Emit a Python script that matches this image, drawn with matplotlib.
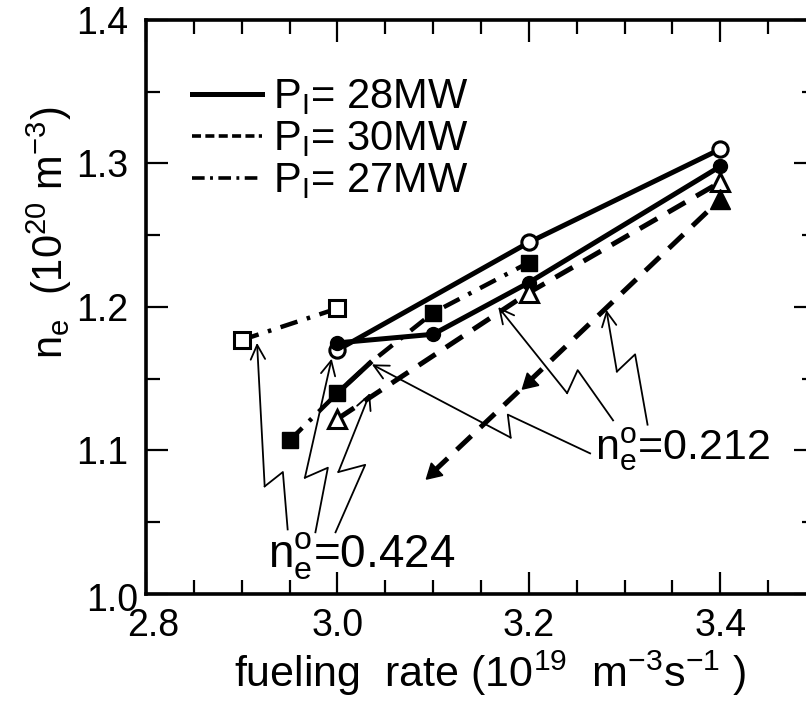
import matplotlib
matplotlib.use("Agg")
import matplotlib.pyplot as plt
import matplotlib.transforms as mtransforms
from matplotlib.lines import Line2D
from matplotlib.ticker import MultipleLocator

plt.rcParams['font.family'] = ['Liberation Sans', 'DejaVu Sans']
plt.rcParams['mathtext.fontset'] = 'custom'
plt.rcParams['mathtext.rm'] = 'Liberation Sans'

# fueling rate (1e19 m^-3 s^-1) vs n_e (1e20 m^-3)
# P_I = 28MW, solid
rate_oc = [3.0, 3.2, 3.4]
ne_oc = [1.170, 1.245, 1.310]
rate_fc = [3.0, 3.1, 3.2, 3.4]
ne_fc = [1.175, 1.181, 1.217, 1.298]
# P_I = 30MW, dashed
rate_ot = [3.0, 3.2, 3.4]
ne_ot = [1.122, 1.210, 1.287]
rate_ft = [3.1, 3.2, 3.4]
ne_ft = [1.085, 1.148, 1.275]
# P_I = 27MW, dash-dot
rate_fs = [2.95, 3.0, 3.034, 3.1, 3.2]
ne_fs = [1.107, 1.140, 1.161, 1.196, 1.231]
rate_os = [2.9, 3.0]
ne_os = [1.177, 1.199]

legend_labels = [r'$\mathregular{P_I}$= 28MW', r'$\mathregular{P_I}$= 30MW', r'$\mathregular{P_I}$= 27MW']

# zigzag pointer lines (label end -> ... -> tip)
ptr_424 = [
    [(2.948, 1.045), (2.943, 1.085), (2.924, 1.075), (2.916, 1.175)],
    [(2.977, 1.043), (2.990, 1.088), (2.966, 1.081), (2.994, 1.164)],
    [(2.998, 1.043), (3.029, 1.090), (3.001, 1.085), (3.034, 1.140)],
]
ptr_212 = [
    [(3.264, 1.098), (3.178, 1.125), (3.181, 1.109), (3.036, 1.160)],
    [(3.288, 1.121), (3.251, 1.156), (3.240, 1.140), (3.168, 1.200)],
    [(3.324, 1.118), (3.311, 1.167), (3.292, 1.155), (3.281, 1.198)],
]

fig = plt.figure(figsize=(8.06, 7.10), dpi=100)
ax = fig.add_axes([146/806, 1-594/710, (816-146)/806, (594-20)/710])

dash = (4, 2.5)
dashdot = (4, 2.2, 0.8, 2.2)
ms = 11

# solid, 28MW
ax.plot(rate_oc, ne_oc, '-', color='k', lw=3.6, marker='o', ms=ms,
        mfc='white', mec='k', mew=2.2, zorder=3)
ax.plot(rate_fc, ne_fc, '-', color='k', lw=3.6, marker='o', ms=ms-1,
        mfc='k', mec='k', zorder=3)

# dashed, 30MW
ax.plot(rate_ot, ne_ot, color='k', lw=3.6, dashes=dash, marker='^', ms=ms+2,
        mfc='white', mec='k', mew=2.2, zorder=3)
ax.plot(rate_ft, ne_ft, color='k', lw=3.6, dashes=dash, zorder=3)
ax.plot(rate_ft[2:], ne_ft[2:], ls='none', marker='^', ms=ms+3, color='k', zorder=4)
ax.plot(rate_ft[:2], ne_ft[:2], ls='none', marker=(3, 0, 133), ms=ms+3, color='k', zorder=4)

# dash-dot, 27MW
ax.plot(rate_fs, ne_fs, color='k', lw=3.2, dashes=dashdot, zorder=3)
ax.plot(rate_fs[1:3], ne_fs[1:3], '-', color='k', lw=3.6, zorder=3)
ax.plot([rate_fs[i] for i in (0, 1, 3, 4)], [ne_fs[i] for i in (0, 1, 3, 4)],
        ls='none', marker='s', ms=ms+1, color='k', zorder=4)
ax.plot(rate_os, ne_os, color='k', lw=3.2, dashes=dashdot, marker='s', ms=ms+1,
        mfc='white', mec='k', mew=2.2, zorder=3)

# pointers
for path in ptr_424 + ptr_212:
    xs = [p[0] for p in path[:-1]]
    ys = [p[1] for p in path[:-1]]
    ax.plot(xs, ys, '-', color='k', lw=1.3, zorder=5)
    ax.annotate('', xy=path[-1], xytext=path[-2],
                arrowprops=dict(arrowstyle='->', lw=1.3, color='k',
                                mutation_scale=26, shrinkA=0, shrinkB=0),
                zorder=5)

ax.text(3.269, 1.0934, r'$\mathregular{n_e^o}$=0.212', fontsize=31,
        ha='left', va='baseline')
ax.text(2.9275, 1.0188, r'$\mathregular{n_e^o}$=0.424', fontsize=33,
        ha='left', va='baseline')

handles = [Line2D([], [], color='k', lw=3.6),
           Line2D([], [], color='k', lw=2.6, dashes=(2.5, 1.2)),
           Line2D([], [], color='k', lw=2.6, dashes=(3.5, 1.5, 0.8, 1.5))]
ax.legend(handles, legend_labels, loc='upper left', bbox_to_anchor=(0.068, 0.90),
          frameon=False, fontsize=30, handlelength=1.7, handletextpad=0.25,
          labelspacing=0.05, borderaxespad=0, borderpad=0)

ax.set_xlim(2.8, 3.5)
ax.set_ylim(1.0, 1.4)
ax.xaxis.set_minor_locator(MultipleLocator(0.05))
ax.yaxis.set_minor_locator(MultipleLocator(0.05))
ax.set_xticks([2.8, 3.0, 3.2, 3.4])
ax.set_xticklabels(['2.8', '3.0', '3.2', '3.4'])
ax.set_yticks([1.0, 1.1, 1.2, 1.3, 1.4])
ax.set_yticklabels(['1.0', '1.1', '1.2', '1.3', '1.4'])
ax.tick_params(which='both', direction='in', top=True, right=True, width=1.6)
ax.tick_params(which='major', length=16, labelsize=27)
ax.tick_params(which='minor', length=10)
ax.tick_params(axis='y', pad=13)
ax.tick_params(axis='x', pad=10)
for s in ax.spines.values():
    s.set_linewidth(2.6)

# corner labels 1.0 and 2.8 sit shifted like the original
lab = ax.get_yticklabels()[0]
lab.set_transform(lab.get_transform() + mtransforms.ScaledTranslation(0.10, -0.03, fig.dpi_scale_trans))
lab = ax.get_xticklabels()[0]
lab.set_transform(lab.get_transform() + mtransforms.ScaledTranslation(0.07, 0, fig.dpi_scale_trans))

ax.set_xlabel(r'fueling  rate (10$\mathregular{^{19}}$  m$\mathregular{^{-3}}$s$\mathregular{^{-1}}$ )',
              fontsize=31)
ax.xaxis.set_label_coords(0.513, -0.095)
ax.set_ylabel(r'$\mathregular{n_e}$  (10$\mathregular{^{20}}$ m$\mathregular{^{-3}}$)', fontsize=30)
ax.yaxis.set_label_coords(-0.108, 0.63)

fig.savefig('out.png', dpi=100)
